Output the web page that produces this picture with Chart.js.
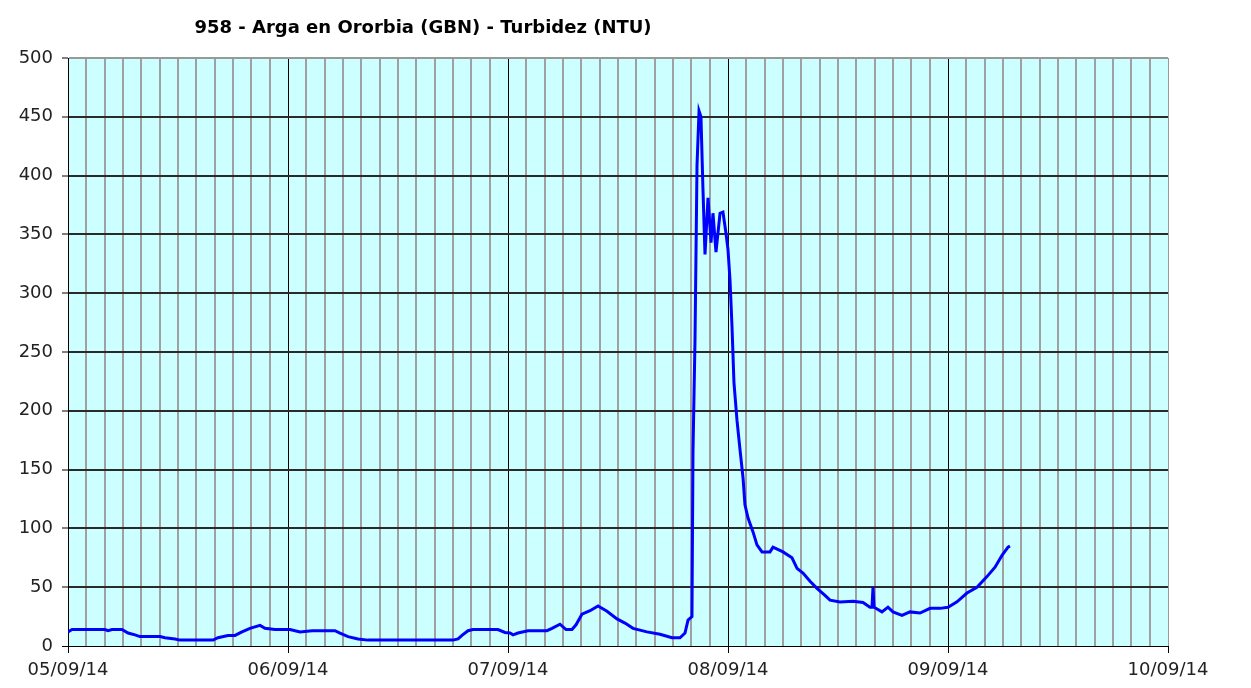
<!DOCTYPE html>
<html>
<head>
<meta charset="utf-8">
<script src="https://cdn.jsdelivr.net/npm/chart.js@4/dist/chart.umd.min.js"></script>
<style>
  html, body { margin: 0; padding: 0; background: #ffffff; }
  #wrap { width: 1251px; height: 688px; position: relative; }
</style>
</head>
<body>
<div id="wrap"><canvas id="c" width="1251" height="688"></canvas></div>
<script>
// Title and axis labels
const chartTitle = '958 - Arga en Ororbia (GBN) - Turbidez (NTU)';
const dayLabels = ['05/09/14', '06/09/14', '07/09/14', '08/09/14', '09/09/14', '10/09/14'];

// Hours elapsed since 05/09/14 00:00
const hours = [
  0.0, 0.44, 4.04, 4.36, 4.8, 5.89, 6.55, 7.31, 7.85, 10.04, 10.58, 11.67, 12.22,
  15.82, 16.36, 17.45, 18.22, 18.98, 19.85, 20.95, 21.49, 22.58, 24.22, 25.31,
  26.62, 29.13, 29.67, 30.55, 31.64, 32.73, 40.58, 42.0, 42.55, 42.98, 43.64,
  44.18, 46.9, 47.67, 48.22, 48.55, 49.09, 50.18, 52.25, 52.8, 53.67, 54.33,
  54.98, 55.42, 56.07, 56.95, 57.82, 58.8, 59.89, 60.76, 61.64, 63.16, 64.58,
  65.89, 66.76, 67.31, 67.64, 68.07, 68.18, 68.4, 68.62, 68.84, 69.05, 69.27,
  69.49, 69.82, 70.15, 70.36, 70.69, 71.13, 71.45, 71.78, 72.0, 72.22, 72.44,
  72.65, 72.98, 73.31, 73.64, 73.85, 74.18, 74.73, 75.16, 75.71, 76.58, 76.91,
  78.0, 78.98, 79.53, 80.18, 80.95, 81.71, 82.58, 83.13, 84.22, 85.64, 86.73,
  87.49, 87.71, 87.82, 87.93, 88.8, 89.45, 90.0, 90.98, 91.85, 92.95, 94.04,
  95.13, 96.0, 96.98, 98.07, 99.16, 100.25, 101.13, 101.89, 102.55, 102.76
];

// Turbidity (NTU)
const turbidity = [
  12, 14, 14, 13, 14, 14, 11, 9.5, 8, 8, 7, 6, 5,
  5, 7, 9, 9, 12, 15, 17.5, 15, 14, 14, 12,
  13, 13, 11, 8, 6, 5, 5, 5, 6, 9, 13,
  14, 14, 11.5, 11, 9.5, 11, 13, 13, 15, 18.5, 14,
  14, 18, 27, 30, 34, 29.5, 23, 19.5, 15, 12, 10,
  7, 7, 11, 22, 25, 165, 260, 409, 455, 450, 388,
  333, 381, 343, 368, 335, 368, 369, 351, 337, 311, 271,
  224, 192, 167, 143, 120, 109, 97, 86, 80, 80, 84,
  80, 75, 66, 62, 55, 49, 43, 39, 37.5, 38, 37,
  33, 33, 50, 33, 29, 33, 29, 26, 29, 28, 32,
  32, 33, 37.5, 45, 50, 59, 67, 77, 84, 85
];

const yTicks = [0, 50, 100, 150, 200, 250, 300, 350, 400, 450, 500];

const points = hours.map((h, i) => ({ x: h, y: turbidity[i] }));

const plotBg = {
  id: 'plotBg',
  beforeDraw(chart) {
    const { ctx, chartArea: a } = chart;
    ctx.save();
    ctx.fillStyle = '#CCFFFF';
    ctx.fillRect(a.left, a.top, a.right - a.left, a.bottom - a.top);
    ctx.restore();
  }
};

const titleText = {
  id: 'titleText',
  afterDraw(chart) {
    const ctx = chart.ctx;
    ctx.save();
    ctx.font = 'bold 18px "DejaVu Sans"';
    ctx.fillStyle = '#000000';
    ctx.textAlign = 'center';
    ctx.textBaseline = 'middle';
    ctx.fillText(chartTitle, 423, 28);
    ctx.restore();
  }
};

new Chart(document.getElementById('c'), {
  type: 'line',
  data: {
    datasets: [{
      data: points,
      borderColor: '#0000FF',
      borderWidth: 3,
      pointRadius: 0,
      tension: 0,
      fill: false
    }]
  },
  options: {
    responsive: false,
    animation: false,
    layout: { padding: { top: 58, right: 83, left: 0, bottom: 0 } },
    plugins: { legend: { display: false }, tooltip: { enabled: false }, title: { display: false } },
    scales: {
      x: {
        type: 'linear',
        min: 0,
        max: 120,
        afterBuildTicks(scale) {
          const t = [];
          for (let v = 0; v <= 120; v += 2) t.push({ value: v });
          scale.ticks = t;
        },
        afterFit(scale) { scale.height = 42; },
        ticks: {
          autoSkip: false,
          maxRotation: 0,
          minRotation: 0,
          padding: 7,
          color: '#222222',
          font: { family: 'DejaVu Sans', size: 18 },
          callback(v) { return v % 24 === 0 ? dayLabels[v / 24] : ''; }
        },
        grid: {
          drawTicks: true,
          tickLength: 7,
          color(c) {
            const v = c.tick.value;
            if (v === 120) return '#999999';
            return v % 24 === 0 ? '#000000' : '#A0A0A0';
          },
          lineWidth(c) { return c.tick.value % 24 === 0 ? 1 : 2; },
          tickColor(c) { return c.tick.value % 24 === 0 ? '#000000' : 'rgba(0,0,0,0)'; },
          tickWidth: 1
        },
        border: { display: true, color: '#000000', width: 1 }
      },
      y: {
        min: 0,
        max: 500,
        afterBuildTicks(scale) { scale.ticks = yTicks.map(v => ({ value: v })); },
        afterFit(scale) { scale.width = 68; },
        ticks: {
          padding: 9,
          color: '#222222',
          font: { family: 'DejaVu Sans', size: 18 }
        },
        grid: {
          tickLength: 6,
          color(c) { return c.tick.value === 500 ? '#999999' : '#2A2A2A'; },
          lineWidth(c) { return c.tick.value === 0 ? 1 : 2; },
          tickColor: '#000000',
          tickWidth: 1
        },
        border: { display: true, color: '#000000', width: 1 }
      }
    }
  },
  plugins: [plotBg, titleText]
});
</script>
</body>
</html>
